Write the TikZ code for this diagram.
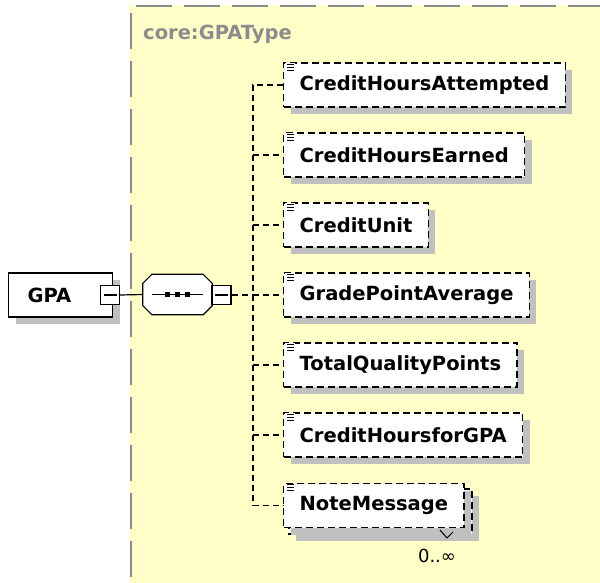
\documentclass[tikz,border=0pt]{standalone}
\usepackage{fontspec}
\setmainfont{DejaVu Sans}
\usetikzlibrary{shadows}

\definecolor{typeyellow}{RGB}{255,255,200}
\definecolor{typegray}{RGB}{140,140,140}
\definecolor{shadowgray}{RGB}{192,192,192}

\tikzset{
    boxshadow/.style={general shadow={fill=shadowgray, shadow xshift=7pt, shadow yshift=-7pt}},
    elem/.style={draw, dash pattern=on 7pt off 4pt, line width=1.3pt, fill=white, boxshadow,
        anchor=west, minimum height=44pt, inner xsep=16pt,
        font=\bfseries\fontsize{19.5}{22}\selectfont},
    minusbox/.style={draw, line width=1.2pt, fill=white, minimum size=19pt, inner sep=0pt,
        path picture={\draw[line width=1.2pt] ([xshift=3pt]path picture bounding box.west)
            -- ([xshift=-3pt]path picture bounding box.east);}},
    conn/.style={dash pattern=on 6pt off 4pt, line width=1.3pt},
    docicon/.style={line width=1pt}
}

\begin{document}
\begin{tikzpicture}[x=1pt,y=-1pt]
        \useasboundingbox (0,0) rectangle (600,583);
        % complex type area
        \fill[typeyellow] (130,5) rectangle (600,583);
        \draw[typegray, line width=2pt, dash pattern=on 36pt off 12pt]
            (136,6) -- (600,6);
        \draw[typegray, line width=2pt, dash pattern=on 36pt off 12pt]
            (131,13) -- (131,583);
        \node[anchor=west, text=typegray, font=\bfseries\fontsize{19.5}{22}\selectfont, inner sep=0pt]
            (typename) at (143,34) {core:GPAType};

        % root element
        \node[draw, line width=1.2pt, fill=white, boxshadow, anchor=west, minimum height=44pt,
            inner xsep=19pt, text width=66pt, font=\bfseries\fontsize{19.5}{22}\selectfont]
            (gpa) at (8,295) {GPA};
        \node[minusbox] (gpaminus) at (110,295) {};

        % sequence compositor
        \node[minimum width=69pt, minimum height=40pt, inner sep=0pt] (seq) at (177.5,294.5) {};
        \fill[shadowgray, xshift=7pt, yshift=-7pt]
            ([xshift=9pt]seq.north west) -- ([xshift=-9pt]seq.north east)
            -- ([yshift=-9pt]seq.north east) -- ([yshift=9pt]seq.south east)
            -- ([xshift=-9pt]seq.south east) -- ([xshift=9pt]seq.south west)
            -- ([yshift=9pt]seq.south west) -- ([yshift=-9pt]seq.north west) -- cycle;
        \draw[line width=1.2pt, fill=white]
            ([xshift=9pt]seq.north west) -- ([xshift=-9pt]seq.north east)
            -- ([yshift=-9pt]seq.north east) -- ([yshift=9pt]seq.south east)
            -- ([xshift=-9pt]seq.south east) -- ([xshift=9pt]seq.south west)
            -- ([yshift=9pt]seq.south west) -- ([yshift=-9pt]seq.north west) -- cycle;
        \draw[line width=1.2pt] ([xshift=9pt]seq.west) -- ([xshift=-9pt]seq.east);
        \foreach \dx in {-10,0,10}
            \node[fill, minimum size=5pt, inner sep=0pt] at ([xshift=\dx pt]seq.center) {};
        \node[minusbox] (seqminus) at (221.5,295) {};
        \draw[line width=1.2pt] (gpaminus.east) -- (seq.west);

        % child elements
        \draw
            (283,85) node[elem] (e1){CreditHoursAttempted}
            (283,155) node[elem] (e2){CreditHoursEarned}
            (283,225) node[elem] (e3){CreditUnit}
            (283,295) node[elem] (e4){GradePointAverage}
            (283,365) node[elem] (e5){TotalQualityPoints}
            (283,435) node[elem] (e6){CreditHoursforGPA};
        % repeated element: back copy first
        \draw[dash pattern=on 7pt off 4pt, line width=1.3pt, fill=white, boxshadow]
            (289,489) rectangle (472,534);
        \node[elem, general shadow={}] (e7) at (283,505.5) {NoteMessage};
        \draw[line width=1pt] (440,530) -- (447,538) -- (453,532);
        \node[font=\fontsize{18}{20}\selectfont, inner sep=0pt] (occurs) at (437,556) {0..∞};

        % document icons
        \foreach \i in {1,...,7} {
            \fill[white] ([xshift=2pt,yshift=-1pt]e\i.north west) rectangle +(10,9);
            \foreach \dy in {2,5,8}
                \draw[docicon] ([xshift=4pt,yshift=-\dy pt]e\i.north west) -- +(7,0);
        }

        % connectors
        \coordinate (bus) at (253,295);
        \draw[conn] (seqminus.east) -- (bus);
        \draw[conn] (e1.west) -| (bus) |- (e7.west);
        \foreach \i in {2,...,6}
            \draw[conn] (bus |- e\i.west) -- (e\i.west);
        \end{tikzpicture}
\end{document}
